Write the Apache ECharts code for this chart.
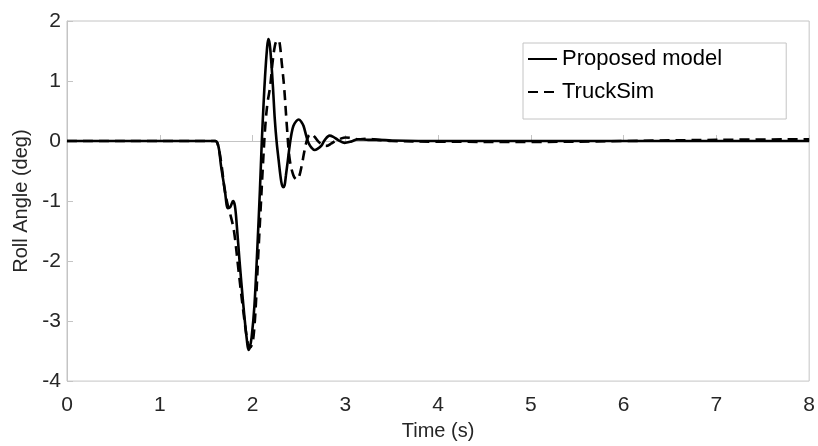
<!DOCTYPE html>
<html>
<head>
<meta charset="utf-8">
<script src="https://cdn.jsdelivr.net/npm/echarts@6/dist/echarts.min.js"></script>
<style>
  html, body { margin: 0; padding: 0; background: #fff; }
  #chart { width: 818px; height: 446px; }
</style>
</head>
<body>
<div id="chart"></div>
<script>
// Proposed model (time s, roll angle deg)
const timeProposed = [0, 1.60, 1.62, 1.64, 1.66, 1.70, 1.735, 1.76, 1.79, 1.81, 1.83, 1.86, 1.90, 1.94, 1.957, 1.97, 1.99, 2.02, 2.05, 2.08, 2.10, 2.12, 2.135, 2.155, 2.17, 2.185, 2.20, 2.22, 2.24, 2.26, 2.28, 2.31, 2.33, 2.345, 2.36, 2.38, 2.40, 2.42, 2.44, 2.47, 2.50, 2.53, 2.55, 2.58, 2.60, 2.635, 2.67, 2.70, 2.74, 2.78, 2.83, 2.87, 2.92, 2.99, 3.06, 3.14, 3.25, 3.35, 3.5, 4.0, 5.0, 6.0, 7.0, 8.0];
const rollProposed = [0, 0, -0.03, -0.15, -0.41, -0.80, -1.12, -1.10, -1.00, -1.08, -1.40, -2.00, -2.72, -3.33, -3.48, -3.44, -3.27, -2.75, -1.84, -0.80, 0.00, 0.65, 1.08, 1.52, 1.70, 1.62, 1.36, 0.90, 0.36, -0.02, -0.30, -0.68, -0.77, -0.74, -0.57, -0.33, -0.08, 0.12, 0.25, 0.33, 0.36, 0.31, 0.25, 0.08, -0.02, -0.11, -0.15, -0.13, -0.08, 0.02, 0.09, 0.07, 0.02, -0.03, -0.01, 0.03, 0.02, 0.02, 0.01, 0.0, 0.0, 0.0, 0.0, 0.0];

// TruckSim (time s, roll angle deg)
const timeTruckSim = [0, 1.60, 1.62, 1.64, 1.67, 1.70, 1.73, 1.76, 1.80, 1.85, 1.90, 1.95, 1.975, 2.00, 2.02, 2.04, 2.06, 2.085, 2.11, 2.135, 2.16, 2.19, 2.215, 2.24, 2.26, 2.28, 2.295, 2.315, 2.34, 2.37, 2.40, 2.44, 2.475, 2.50, 2.53, 2.555, 2.58, 2.605, 2.63, 2.67, 2.71, 2.76, 2.80, 2.85, 2.89, 2.95, 3.00, 3.07, 3.14, 3.24, 3.35, 3.5, 4.0, 5.0, 6.0, 7.0, 8.0];
const rollTruckSim = [0, 0, -0.03, -0.15, -0.45, -0.82, -1.05, -1.22, -1.50, -2.17, -2.83, -3.38, -3.44, -3.36, -3.10, -2.60, -1.95, -1.20, -0.46, 0.20, 0.62, 0.91, 1.30, 1.58, 1.67, 1.68, 1.60, 1.30, 0.91, 0.25, -0.30, -0.57, -0.64, -0.60, -0.41, -0.20, -0.02, 0.09, 0.12, 0.07, -0.01, -0.07, -0.08, -0.04, 0.00, 0.04, 0.06, 0.05, 0.03, 0.04, 0.02, 0.0, -0.01, -0.015, 0.0, 0.02, 0.03];

const xTicks = { min: 0, max: 8, interval: 1 };
const yTicks = { min: -4, max: 2, interval: 1 };
const seriesNames = ['Proposed model', 'TruckSim'];

const pairs = (xs, ys) => xs.map((x, i) => [x, ys[i]]);

const FONT = 'Liberation Sans, Arial, Helvetica, sans-serif';
const AXIS_GRAY = '#c4c4c4';
const TEXT = '#262626';

const chart = echarts.init(document.getElementById('chart'), null, { renderer: 'canvas' });
chart.setOption({
  animation: false,
  backgroundColor: '#ffffff',
  grid: {
    left: 67, right: 4, top: 21, bottom: 62,
    show: true, borderColor: AXIS_GRAY, borderWidth: 1, containLabel: false
  },
  xAxis: {
    type: 'value', min: xTicks.min, max: xTicks.max, interval: xTicks.interval,
    name: 'Time (s)', nameLocation: 'middle', nameGap: 39,
    nameTextStyle: { fontFamily: FONT, fontSize: 20, color: TEXT },
    axisLine: { show: true, lineStyle: { color: AXIS_GRAY, width: 1 } },
    axisTick: { show: true, inside: true, length: 6, lineStyle: { color: AXIS_GRAY } },
    axisLabel: { fontFamily: FONT, fontSize: 21, color: TEXT, margin: 14 },
    splitLine: { show: false }
  },
  yAxis: {
    type: 'value', min: yTicks.min, max: yTicks.max, interval: yTicks.interval,
    name: 'Roll Angle (deg)', nameLocation: 'middle', nameGap: 35,
    nameTextStyle: { fontFamily: FONT, fontSize: 20, color: TEXT },
    axisLine: { show: true, lineStyle: { color: AXIS_GRAY, width: 1 } },
    axisTick: { show: true, inside: true, length: 6, lineStyle: { color: AXIS_GRAY } },
    axisLabel: { fontFamily: FONT, fontSize: 21, color: TEXT, margin: 6 },
    splitLine: { show: false }
  },
  legend: {
    orient: 'vertical', left: 523, top: 43,
    data: seriesNames,
    itemWidth: 29, itemHeight: 14, itemGap: 9,
    padding: [4, 64, 15, 4],
    borderColor: '#c4c4c4', borderWidth: 1, backgroundColor: '#fff',
    itemStyle: { opacity: 0 },
    textStyle: { fontFamily: FONT, fontSize: 22, color: '#000', lineHeight: 24 }
  },
  series: [
    {
      name: seriesNames[0], type: 'line', data: pairs(timeProposed, rollProposed),
      symbol: 'none', smooth: 0.35,
      lineStyle: { color: '#000', width: 2.6, type: 'solid' },
      itemStyle: { color: '#000' }, z: 3
    },
    {
      name: seriesNames[1], type: 'line', data: pairs(timeTruckSim, rollTruckSim),
      symbol: 'none', smooth: 0.35,
      lineStyle: { color: '#000', width: 2.6, type: [10, 6] },
      itemStyle: { color: '#000' }, z: 4
    }
  ]
});
</script>
</body>
</html>
